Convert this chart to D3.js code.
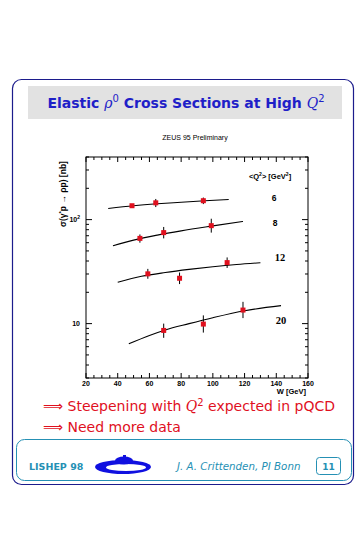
<!DOCTYPE html>
<html lang="en">
  <head>
    <title>Elastic rho0 cross sections</title>
    <meta charset="utf-8"/>
    <script type="text/javascript" src="https://cdn.jsdelivr.net/npm/d3@7"></script>
    <style>
     body { margin: 0; background: white; }
     svg { display: block; }
    </style>
  </head>
  <body>
    <script type="text/javascript">
     // data -----------------------------------------------------------------------------
     let q2Labels = ["6", "8", "12", "20"];

     // fitted curves, [W, sigma]
     let curve6  = [[34, 128], [50, 136], [65, 142], [80, 147], [95, 152], [110, 156]];
     let curve8  = [[37, 56], [50, 63.5], [65, 71], [80, 78], [100, 87], [119, 96]];
     let curve12 = [[40, 25], [55, 28.5], [70, 31], [85, 33.2], [100, 35.2], [115, 37], [130, 38.5]];
     let curve20 = [[47, 6.4], [60, 7.7], [70, 8.7], [85, 10], [100, 11.4], [120, 13.3], [143, 14.9]];

     // measurements, [W, sigma, low, high]
     let points6  = [[49, 136, 131, 141], [64, 145, 132, 158], [94, 152, 141, 163]];
     let points8  = [[54, 66, 60, 72], [69, 75, 66, 85], [99, 87.5, 75, 102]];
     let points12 = [[59, 30.1, 27, 33.6], [79, 27.3, 24, 31], [109, 38.6, 34.3, 43.3]];
     let points20 = [[69, 8.6, 7.3, 10], [94, 9.9, 8.2, 12], [119, 13.5, 11.3, 16.2]];

     let xTicks = [20, 40, 60, 80, 100, 120, 140, 160];
     let yTicks = [10, 100];

     let curves = [curve6, curve8, curve12, curve20];
     let points = [points6, points8, points12, points20];

     // page ------------------------------------------------------------------------------
     let W = 363, H = 535;
     let svg = d3.select("body").append("svg").attr("width", W).attr("height", H);

     let navy = "#1c1c8c", blue = "#1f1fc8", red = "#e0101e", teal = "#2590b4";

     svg.append("rect")
        .attr("x", 12.5).attr("y", 79.5).attr("width", 341).attr("height", 405)
        .attr("rx", 9).attr("fill", "white").attr("stroke", navy).attr("stroke-width", 1.2);

     // title bar
     svg.append("rect")
        .attr("x", 28).attr("y", 86).attr("width", 314).attr("height", 33)
        .attr("fill", "#e2e2e2");

     let title = svg.append("text")
        .attr("x", 186).attr("y", 108)
        .attr("text-anchor", "middle")
        .attr("font-family", "DejaVu Sans, sans-serif")
        .attr("font-weight", "bold")
        .attr("font-size", 14)
        .attr("fill", blue);
     title.append("tspan").text("Elastic ");
     title.append("tspan").attr("font-style", "italic").attr("font-weight", "normal").attr("font-family", "DejaVu Serif, serif").text("ρ");
     title.append("tspan").attr("dy", -6).attr("font-size", 10).attr("font-weight", "normal").text("0");
     title.append("tspan").attr("dy", 6).text(" Cross Sections at High ");
     title.append("tspan").attr("font-style", "italic").attr("font-weight", "normal").attr("font-family", "DejaVu Serif, serif").text("Q");
     title.append("tspan").attr("dy", -6).attr("font-size", 10).attr("font-weight", "normal").text("2");

     // chart -----------------------------------------------------------------------------
     let px0 = 86, px1 = 308, py0 = 157, py1 = 378;

     let x = d3.scaleLinear().domain([20, 160]).range([px0, px1]);
     let y = d3.scaleLog().domain([3, 400]).range([py1, py0]);

     let g = svg.append("g");

     g.append("text")
      .attr("x", 195).attr("y", 140)
      .attr("text-anchor", "middle")
      .attr("font-family", "Liberation Sans, sans-serif")
      .attr("font-size", 7)
      .text("ZEUS 95 Preliminary");

     // frame
     g.append("rect")
      .attr("x", px0).attr("y", py0).attr("width", px1 - px0).attr("height", py1 - py0)
      .attr("fill", "none").attr("stroke", "black").attr("stroke-width", 1);

     // x ticks, bottom and top, pointing inwards
     let xMinor = d3.range(20, 161, 5);
     xMinor.forEach(v => {
       let len = (v % 20 === 0) ? 5 : 3;
       g.append("line").attr("x1", x(v)).attr("x2", x(v)).attr("y1", py1).attr("y2", py1 - len).attr("stroke", "black");
       g.append("line").attr("x1", x(v)).attr("x2", x(v)).attr("y1", py0).attr("y2", py0 + len).attr("stroke", "black");
     });
     g.selectAll("text.xt")
      .data(xTicks)
      .enter()
      .append("text")
      .attr("class", "xt")
      .attr("x", d => x(d))
      .attr("y", 386)
      .attr("text-anchor", "middle")
      .attr("font-family", "Liberation Sans, sans-serif")
      .attr("font-weight", "bold")
      .attr("font-size", 7)
      .attr("fill", "black")
      .text(d => d);

     // y ticks, left and right
     let yMinor = [];
     [1, 10, 100].forEach(dec => {
       for (let k = 1; k < 10; k++) {
         let v = dec * k;
         if (v >= 3 && v <= 400) yMinor.push(v);
       }
     });
     yMinor.forEach(v => {
       let len = (v === 10 || v === 100) ? 6 : 3;
       g.append("line").attr("x1", px0).attr("x2", px0 + len).attr("y1", y(v)).attr("y2", y(v)).attr("stroke", "black");
       g.append("line").attr("x1", px1).attr("x2", px1 - len).attr("y1", y(v)).attr("y2", y(v)).attr("stroke", "black");
     });
     g.selectAll("text.yt")
      .data(yTicks)
      .enter()
      .append("text")
      .attr("class", "yt")
      .attr("x", 80)
      .attr("y", d => y(d) + 2.5)
      .attr("text-anchor", "end")
      .attr("font-family", "Liberation Sans, sans-serif")
      .attr("font-weight", "bold")
      .attr("font-size", 7)
      .attr("fill", "black")
      .each(function(d) {
        let t = d3.select(this);
        t.append("tspan").text("10");
        if (d === 100) t.append("tspan").attr("dy", -3).attr("font-size", 5).text("2");
      });

     // axis titles
     g.append("text")
      .attr("x", 306).attr("y", 394)
      .attr("text-anchor", "end")
      .attr("font-family", "Liberation Sans, sans-serif")
      .attr("font-weight", "bold")
      .attr("font-size", 7.5)
      .text("W [GeV]");

     let yl = g.append("text")
      .attr("transform", "translate(66,194) rotate(-90)")
      .attr("text-anchor", "middle")
      .attr("font-family", "Liberation Sans, sans-serif")
      .attr("font-weight", "bold")
      .attr("font-size", 8.5);
     yl.append("tspan").text("σ(γ");
     yl.append("tspan").attr("dy", -3).attr("font-size", 6).text("*");
     yl.append("tspan").attr("dy", 3).text("p → ρp) [nb]");

     // legend header and Q2 labels
     let lg = g.append("text")
      .attr("x", 270).attr("y", 179)
      .attr("text-anchor", "middle")
      .attr("font-family", "Liberation Sans, sans-serif")
      .attr("font-weight", "bold")
      .attr("font-size", 7.5);
     lg.append("tspan").text("<Q");
     lg.append("tspan").attr("dy", -3).attr("font-size", 5).text("2");
     lg.append("tspan").attr("dy", 3).text("> [GeV");
     lg.append("tspan").attr("dy", -3).attr("font-size", 5).text("2");
     lg.append("tspan").attr("dy", 3).text("]");

     let labelPos = [[274, 201], [275, 226], [280, 261], [281, 324]];
     g.selectAll("text.q2")
      .data(q2Labels)
      .enter()
      .append("text")
      .attr("class", "q2")
      .attr("x", (d, i) => labelPos[i][0])
      .attr("y", (d, i) => labelPos[i][1])
      .attr("text-anchor", "middle")
      .attr("font-family", (d, i) => i < 2 ? "Liberation Sans, sans-serif" : "Liberation Serif, serif")
      .attr("font-weight", "bold")
      .attr("font-size", (d, i) => i < 2 ? 8.5 : 10.5)
      .text(d => d);

     // fitted curves
     let line = d3.line()
                  .x(d => x(d[0]))
                  .y(d => y(d[1]))
                  .curve(d3.curveMonotoneX);
     g.selectAll("path.fit")
      .data(curves)
      .enter()
      .append("path")
      .attr("class", "fit")
      .attr("d", line)
      .attr("fill", "none")
      .attr("stroke", "black")
      .attr("stroke-width", 1.1);

     // data points with error bars
     let allPts = [];
     points.forEach(p => p.forEach(d => allPts.push(d)));

     g.selectAll("line.err")
      .data(allPts)
      .enter()
      .append("line")
      .attr("class", "err")
      .attr("x1", d => x(d[0])).attr("x2", d => x(d[0]))
      .attr("y1", d => y(d[2])).attr("y2", d => y(d[3]))
      .attr("stroke", "black")
      .attr("stroke-width", 1);

     g.selectAll("rect.pt")
      .data(allPts)
      .enter()
      .append("rect")
      .attr("class", "pt")
      .attr("x", d => x(d[0]) - 2.5)
      .attr("y", d => y(d[1]) - 2.5)
      .attr("width", 5)
      .attr("height", 5)
      .attr("fill", red);

     // bullet lines ------------------------------------------------------------------------
     let b1 = svg.append("text")
        .attr("x", 43).attr("y", 411)
        .attr("font-family", "DejaVu Sans, sans-serif")
        .attr("font-size", 14)
        .attr("fill", red);
     b1.append("tspan").text("⟹ Steepening with ");
     b1.append("tspan").attr("font-style", "italic").attr("font-family", "DejaVu Serif, serif").text("Q");
     b1.append("tspan").attr("dy", -5).attr("font-size", 10).text("2");
     b1.append("tspan").attr("dy", 5).text(" expected in pQCD");

     svg.append("text")
        .attr("x", 43).attr("y", 432)
        .attr("font-family", "DejaVu Sans, sans-serif")
        .attr("font-size", 14)
        .attr("fill", red)
        .text("⟹ Need more data");

     // footer ------------------------------------------------------------------------------
     svg.append("rect")
        .attr("x", 16.5).attr("y", 439.5).attr("width", 335).attr("height", 41)
        .attr("rx", 8).attr("fill", "none").attr("stroke", teal).attr("stroke-width", 1);

     svg.append("text")
        .attr("x", 29).attr("y", 470)
        .attr("font-family", "DejaVu Sans, sans-serif")
        .attr("font-weight", "bold")
        .attr("font-size", 9.5)
        .attr("fill", teal)
        .text("LISHEP 98");

     // ship logo
     let logo = svg.append("g");
     logo.append("ellipse").attr("cx", 123).attr("cy", 467).attr("rx", 28).attr("ry", 7).attr("fill", "#1010e0");
     logo.append("ellipse").attr("cx", 126).attr("cy", 467.5).attr("rx", 20).attr("ry", 3.4).attr("fill", "white");
     logo.append("ellipse").attr("cx", 124).attr("cy", 460.5).attr("rx", 9).attr("ry", 4).attr("fill", "#1010e0");
     logo.append("rect").attr("x", 123).attr("y", 455).attr("width", 3).attr("height", 4).attr("fill", "#1010e0");

     svg.append("text")
        .attr("x", 177).attr("y", 470)
        .attr("font-family", "DejaVu Sans, sans-serif")
        .attr("font-style", "italic")
        .attr("font-size", 10.3)
        .attr("fill", teal)
        .text("J. A. Crittenden, PI Bonn");

     svg.append("rect")
        .attr("x", 316.5).attr("y", 457.5).attr("width", 24).attr("height", 17)
        .attr("rx", 3).attr("fill", "none").attr("stroke", teal);
     svg.append("text")
        .attr("x", 328.5).attr("y", 470)
        .attr("text-anchor", "middle")
        .attr("font-family", "DejaVu Sans, sans-serif")
        .attr("font-weight", "bold")
        .attr("font-size", 9)
        .attr("fill", teal)
        .text("11");
    </script>
  </body>
</html>
